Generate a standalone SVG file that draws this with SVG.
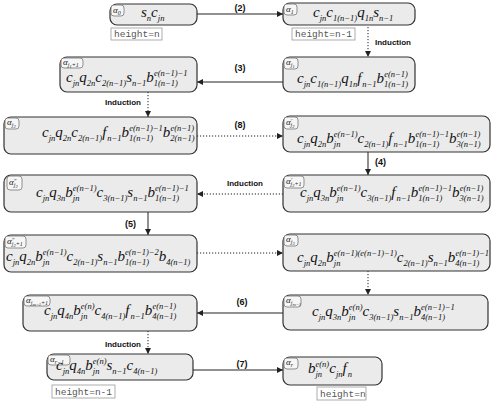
<svg xmlns="http://www.w3.org/2000/svg" width="496" height="402" viewBox="0 0 496 402">
<defs>
<style>
.nd{fill:#ebebeb;stroke:#333;stroke-width:1.2}
.tgr{fill:#f6f6f6;stroke:#777;stroke-width:0.8}
.hb{fill:#fff;stroke:#999;stroke-width:0.8}
.ht{font-family:"Liberation Mono",monospace;font-size:9.5px;fill:#555}
.mt{font-family:"Liberation Serif",serif;font-style:italic;font-size:15px;fill:#111}
.s{font-size:8.5px}
.tg{font-family:"Liberation Serif",serif;font-style:italic;font-size:9px;fill:#222}
.ts{font-size:6px}
.tss{font-size:4.5px}
.ln{stroke:#222;stroke-width:1;fill:none}
.dt{stroke:#222;stroke-width:1;fill:none;stroke-dasharray:1.2 1.8}
.el{font-family:"Liberation Sans",sans-serif;font-weight:bold;font-size:9px;fill:#111}
.il{font-family:"Liberation Sans",sans-serif;font-weight:bold;font-size:8px;fill:#111}
</style>
<marker id="ah" markerUnits="userSpaceOnUse" markerWidth="6" markerHeight="6" refX="6" refY="3" orient="auto"><path d="M0,0 L6,3 L0,6 z" fill="#222"/></marker>
</defs>

<g id="connectors">
<line class="ln" x1="197" y1="14" x2="283" y2="14" marker-end="url(#ah)"/>
<text class="el" x="240" y="11" text-anchor="middle">(2)</text>
<line class="dt" x1="368" y1="27" x2="368" y2="57" marker-end="url(#ah)"/>
<text class="il" x="375" y="45">Induction</text>
<line class="ln" x1="283" y1="82" x2="197" y2="82" marker-end="url(#ah)"/>
<text class="el" x="240" y="71" text-anchor="middle">(3)</text>
<line class="dt" x1="148" y1="92" x2="148" y2="117" marker-end="url(#ah)"/>
<text class="il" x="141" y="105" text-anchor="end">Induction</text>
<line class="dt" x1="197" y1="136" x2="283" y2="136" marker-end="url(#ah)"/>
<text class="el" x="240" y="128" text-anchor="middle">(8)</text>
<line class="ln" x1="368" y1="152" x2="368" y2="175" marker-end="url(#ah)"/>
<text class="el" x="375" y="165">(4)</text>
<line class="dt" x1="283" y1="194" x2="197" y2="194" marker-end="url(#ah)"/>
<text class="il" x="245" y="186" text-anchor="middle">Induction</text>
<line class="ln" x1="148" y1="212" x2="148" y2="235" marker-end="url(#ah)"/>
<text class="el" x="136" y="227" text-anchor="end">(5)</text>
<line class="dt" x1="197" y1="253" x2="283" y2="253" marker-end="url(#ah)"/>
<line class="dt" x1="368" y1="271" x2="368" y2="295" marker-end="url(#ah)"/>
<line class="ln" x1="283" y1="313" x2="197" y2="313" marker-end="url(#ah)"/>
<text class="el" x="242" y="305" text-anchor="middle">(6)</text>
<line class="dt" x1="148" y1="331" x2="148" y2="354" marker-end="url(#ah)"/>
<text class="il" x="141" y="347" text-anchor="end">Induction</text>
<line class="ln" x1="193" y1="370" x2="283" y2="370" marker-end="url(#ah)"/>
<text class="el" x="242" y="367" text-anchor="middle">(7)</text>
</g>

<g id="n-a0">
<rect class="nd" x="110" y="4" width="87" height="21" rx="7"/>
<rect class="tgr" x="111" y="5" width="13" height="11" rx="3"/>
<text class="tg" x="113" y="13">α<tspan class="ts" dy="1.5">0</tspan></text>
<text class="mt" x="141" y="17">s<tspan class="s" dy="4">n</tspan><tspan dy="-4">c</tspan><tspan class="s" dy="4">jn</tspan></text>
<rect class="hb" x="111" y="28" width="51" height="12"/>
<text class="ht" x="114" y="37">height=n</text>
</g>

<g id="n-a1">
<rect class="nd" x="283" y="3" width="132" height="22" rx="7"/>
<rect class="tgr" x="284" y="4" width="13" height="11" rx="3"/>
<text class="tg" x="286" y="12">α<tspan class="ts" dy="1.5">1</tspan></text>
<text class="mt" x="313" y="17">c<tspan class="s" dy="4">jn</tspan><tspan dy="-4">c</tspan><tspan class="s" dy="4">1(n−1)</tspan><tspan dy="-4">q</tspan><tspan class="s" dy="4">1n</tspan><tspan dy="-4">s</tspan><tspan class="s" dy="4">n−1</tspan></text>
<rect class="hb" x="292" y="28" width="63" height="12"/>
<text class="ht" x="295" y="37">height=n-1</text>
</g>

<g id="n-aj1">
<rect class="nd" x="283" y="57" width="132" height="35" rx="7"/>
<rect class="tgr" x="284" y="58" width="14" height="11" rx="3"/>
<text class="tg" x="286" y="65">α<tspan class="ts" dy="2">j</tspan><tspan class="tss" dy="1.2">1</tspan></text>
<text class="mt" x="297" y="83">c<tspan class="s" dy="4">jn</tspan><tspan dy="-4">c</tspan><tspan class="s" dy="4">1(n−1)</tspan><tspan dy="-4">q</tspan><tspan class="s" dy="4">1n</tspan><tspan dy="-4">f</tspan><tspan class="s" dx="1" dy="4">n−1</tspan><tspan dy="-4">b</tspan><tspan class="s" dy="4">1(n−1)</tspan><tspan class="s" dx="-24" dy="-10">e(n−1)</tspan></text>
</g>

<g id="n-aj1p1">
<rect class="nd" x="60" y="57" width="137" height="35" rx="7"/>
<rect class="tgr" x="61" y="58" width="22" height="10" rx="3"/>
<text class="tg" x="63" y="65">α<tspan class="ts" dy="1.8">j</tspan><tspan class="tss" dy="1.2">1</tspan><tspan class="ts" dy="-1.2">+1</tspan></text>
<text class="mt" x="66" y="82">c<tspan class="s" dy="4">jn</tspan><tspan dy="-4">q</tspan><tspan class="s" dy="4">2n</tspan><tspan dy="-4">c</tspan><tspan class="s" dy="4">2(n−1)</tspan><tspan dy="-4">s</tspan><tspan class="s" dy="4">n−1</tspan><tspan dy="-4">b</tspan><tspan class="s" dy="4">1(n−1)</tspan><tspan class="s" dx="-24" dy="-10">e(n−1)−1</tspan></text>
</g>

<g id="n-aj2">
<rect class="nd" x="4" y="117" width="193" height="37" rx="7"/>
<rect class="tgr" x="5" y="118" width="14" height="11" rx="3"/>
<text class="tg" x="7" y="125">α<tspan class="ts" dy="2">j</tspan><tspan class="tss" dy="1.2">2</tspan></text>
<text class="mt" x="42" y="137">c<tspan class="s" dy="4">jn</tspan><tspan dy="-4">q</tspan><tspan class="s" dy="4">2n</tspan><tspan dy="-4">c</tspan><tspan class="s" dy="4">2(n−1)</tspan><tspan dy="-4">f</tspan><tspan class="s" dx="1" dy="4">n−1</tspan><tspan dy="-4">b</tspan><tspan class="s" dy="4">1(n−1)</tspan><tspan class="s" dx="-24" dy="-10">e(n−1)−1</tspan><tspan dy="6">b</tspan><tspan class="s" dy="4">2(n−1)</tspan><tspan class="s" dx="-24" dy="-10">e(n−1)</tspan></text>
</g>

<g id="n-aj2p">
<rect class="nd" x="283" y="116" width="207" height="36" rx="7"/>
<rect class="tgr" x="284" y="117" width="14" height="12" rx="3"/>
<text class="tg" x="286" y="125">α<tspan class="ts" dy="-2.5">′</tspan><tspan class="ts" dx="-1.5" dy="4.5">j</tspan><tspan class="tss" dy="1.2">2</tspan></text>
<text class="mt" x="297" y="143">c<tspan class="s" dy="4">jn</tspan><tspan dy="-4">q</tspan><tspan class="s" dy="4">2n</tspan><tspan dy="-4">b</tspan><tspan class="s" dy="4">jn</tspan><tspan class="s" dx="-6.6" dy="-10">e(n−1)</tspan><tspan dy="6">c</tspan><tspan class="s" dy="4">2(n−1)</tspan><tspan dy="-4">f</tspan><tspan class="s" dx="1" dy="4">n−1</tspan><tspan dy="-4">b</tspan><tspan class="s" dy="4">1(n−1)</tspan><tspan class="s" dx="-24" dy="-10">e(n−1)−1</tspan><tspan dy="6">b</tspan><tspan class="s" dy="4">3(n−1)</tspan><tspan class="s" dx="-24" dy="-10">e(n−1)</tspan></text>
</g>

<g id="n-aj2p1p">
<rect class="nd" x="283" y="175" width="207" height="37" rx="7"/>
<rect class="tgr" x="284" y="176" width="20" height="12" rx="3"/>
<text class="tg" x="286" y="184">α<tspan class="ts" dy="-2.5">′</tspan><tspan class="ts" dx="-1.5" dy="4.5">j</tspan><tspan class="tss" dy="1.2">2</tspan><tspan class="ts" dy="-1.2">+1</tspan></text>
<text class="mt" x="300" y="197">c<tspan class="s" dy="4">jn</tspan><tspan dy="-4">q</tspan><tspan class="s" dy="4">3n</tspan><tspan dy="-4">b</tspan><tspan class="s" dy="4">jn</tspan><tspan class="s" dx="-6.6" dy="-10">e(n−1)</tspan><tspan dy="6">c</tspan><tspan class="s" dy="4">3(n−1)</tspan><tspan dy="-4">f</tspan><tspan class="s" dx="1" dy="4">n−1</tspan><tspan dy="-4">b</tspan><tspan class="s" dy="4">1(n−1)</tspan><tspan class="s" dx="-24" dy="-10">e(n−1)−1</tspan><tspan dy="6">b</tspan><tspan class="s" dy="4">3(n−1)</tspan><tspan class="s" dx="-24" dy="-10">e(n−1)</tspan></text>
</g>

<g id="n-aj2pp">
<rect class="nd" x="4" y="175" width="193" height="37" rx="7"/>
<rect class="tgr" x="7" y="176" width="15" height="14" rx="3"/>
<text class="tg" x="9" y="185">α<tspan class="ts" dy="-2.5">″</tspan><tspan class="ts" dx="-2.5" dy="4.5">j</tspan><tspan class="tss" dy="1.2">2</tspan></text>
<text class="mt" x="36" y="197">c<tspan class="s" dy="4">jn</tspan><tspan dy="-4">q</tspan><tspan class="s" dy="4">3n</tspan><tspan dy="-4">b</tspan><tspan class="s" dy="4">jn</tspan><tspan class="s" dx="-6.6" dy="-10">e(n−1)</tspan><tspan dy="6">c</tspan><tspan class="s" dy="4">3(n−1)</tspan><tspan dy="-4">s</tspan><tspan class="s" dy="4">n−1</tspan><tspan dy="-4">b</tspan><tspan class="s" dy="4">1(n−1)</tspan><tspan class="s" dx="-24" dy="-10">e(n−1)−1</tspan></text>
</g>

<g id="n-aj2p1pp">
<rect class="nd" x="4" y="235" width="193" height="37" rx="7"/>
<rect class="tgr" x="5" y="236" width="21" height="12" rx="3"/>
<text class="tg" x="7" y="244">α<tspan class="ts" dy="-2.5">″</tspan><tspan class="ts" dx="-2.5" dy="4.5">j</tspan><tspan class="tss" dy="1.2">2</tspan><tspan class="ts" dy="-1.2">+1</tspan></text>
<text class="mt" x="6" y="261">c<tspan class="s" dy="4">jn</tspan><tspan dy="-4">q</tspan><tspan class="s" dy="4">2n</tspan><tspan dy="-4">b</tspan><tspan class="s" dy="4">jn</tspan><tspan class="s" dx="-6.6" dy="-10">e(n−1)</tspan><tspan dy="6">c</tspan><tspan class="s" dy="4">2(n−1)</tspan><tspan dy="-4">s</tspan><tspan class="s" dy="4">n−1</tspan><tspan dy="-4">b</tspan><tspan class="s" dy="4">1(n−1)</tspan><tspan class="s" dx="-24" dy="-10">e(n−1)−2</tspan><tspan dy="6">b</tspan><tspan class="s" dy="4">4(n−1)</tspan></text>
</g>

<g id="n-aj3">
<rect class="nd" x="283" y="234" width="207" height="37" rx="7"/>
<rect class="tgr" x="284" y="235" width="14" height="11" rx="3"/>
<text class="tg" x="286" y="242">α<tspan class="ts" dy="2">j</tspan><tspan class="tss" dy="1.2">3</tspan></text>
<text class="mt" x="297" y="262">c<tspan class="s" dy="4">jn</tspan><tspan dy="-4">q</tspan><tspan class="s" dy="4">2n</tspan><tspan dy="-4">b</tspan><tspan class="s" dy="4">jn</tspan><tspan class="s" dx="-6.6" dy="-10">e(n−1)(e(n−1)−1)</tspan><tspan dy="6">c</tspan><tspan class="s" dy="4">2(n−1)</tspan><tspan dy="-4">s</tspan><tspan class="s" dy="4">n−1</tspan><tspan dy="-4">b</tspan><tspan class="s" dy="4">4(n−1)</tspan><tspan class="s" dx="-24" dy="-10">e(n−1)−1</tspan></text>
</g>

<g id="n-ajm1">
<rect class="nd" x="283" y="295" width="205" height="35" rx="7"/>
<rect class="tgr" x="284" y="296" width="17" height="11" rx="3"/>
<text class="tg" x="286" y="303">α<tspan class="ts" dy="2">j</tspan><tspan class="tss" dy="1.2">m−1</tspan></text>
<text class="mt" x="312" y="316">c<tspan class="s" dy="4">jn</tspan><tspan dy="-4">q</tspan><tspan class="s" dy="4">3n</tspan><tspan dy="-4">b</tspan><tspan class="s" dy="4">jn</tspan><tspan class="s" dx="-6.6" dy="-10">e(n)</tspan><tspan dy="6">c</tspan><tspan class="s" dy="4">3(n−1)</tspan><tspan dy="-4">s</tspan><tspan class="s" dy="4">n−1</tspan><tspan dy="-4">b</tspan><tspan class="s" dy="4">4(n−1)</tspan><tspan class="s" dx="-24" dy="-10">e(n−1)−1</tspan></text>
</g>

<g id="n-ajm1p1">
<rect class="nd" x="23" y="295" width="174" height="36" rx="7"/>
<rect class="tgr" x="24" y="296" width="26" height="10" rx="3"/>
<text class="tg" x="26" y="303">α<tspan class="ts" dy="1.8">j</tspan><tspan class="tss" dy="1.2">m−1</tspan><tspan class="ts" dy="-1.2">+1</tspan></text>
<text class="mt" x="44" y="315">c<tspan class="s" dy="4">jn</tspan><tspan dy="-4">q</tspan><tspan class="s" dy="4">4n</tspan><tspan dy="-4">b</tspan><tspan class="s" dy="4">jn</tspan><tspan class="s" dx="-6.6" dy="-10">e(n)</tspan><tspan dy="6">c</tspan><tspan class="s" dy="4">4(n−1)</tspan><tspan dy="-4">f</tspan><tspan class="s" dx="1" dy="4">n−1</tspan><tspan dy="-4">b</tspan><tspan class="s" dy="4">4(n−1)</tspan><tspan class="s" dx="-24" dy="-10">e(n−1)</tspan></text>
</g>

<g id="n-ar1">
<rect class="nd" x="47" y="354" width="146" height="26" rx="7"/>
<rect class="tgr" x="48" y="355" width="22" height="10" rx="3"/>
<text class="tg" x="50" y="362">α<tspan class="ts" dy="1.5">r−1</tspan></text>
<text class="mt" x="56" y="370">c<tspan class="s" dy="4">jn</tspan><tspan dy="-4">q</tspan><tspan class="s" dy="4">4n</tspan><tspan dy="-4">b</tspan><tspan class="s" dy="4">jn</tspan><tspan class="s" dx="-6.6" dy="-10">e(n)</tspan><tspan dy="6">s</tspan><tspan class="s" dy="4">n−1</tspan><tspan dy="-4">c</tspan><tspan class="s" dy="4">4(n−1)</tspan></text>
<rect class="hb" x="52" y="385" width="63" height="13"/>
<text class="ht" x="55" y="395">height=n-1</text>
</g>

<g id="n-ar">
<rect class="nd" x="283" y="357" width="99" height="28" rx="7"/>
<rect class="tgr" x="284" y="358" width="14" height="11" rx="3"/>
<text class="tg" x="286" y="365">α<tspan class="ts" dy="1.5">r</tspan></text>
<text class="mt" x="308" y="373">b<tspan class="s" dy="4">jn</tspan><tspan class="s" dx="-6.6" dy="-10">e(n)</tspan><tspan dy="6">c</tspan><tspan class="s" dy="4">jn</tspan><tspan dy="-4">f</tspan><tspan class="s" dx="1" dy="4">n</tspan></text>
<rect class="hb" x="317" y="387" width="49" height="13"/>
<text class="ht" x="320" y="397">height=n</text>
</g>
</svg>
